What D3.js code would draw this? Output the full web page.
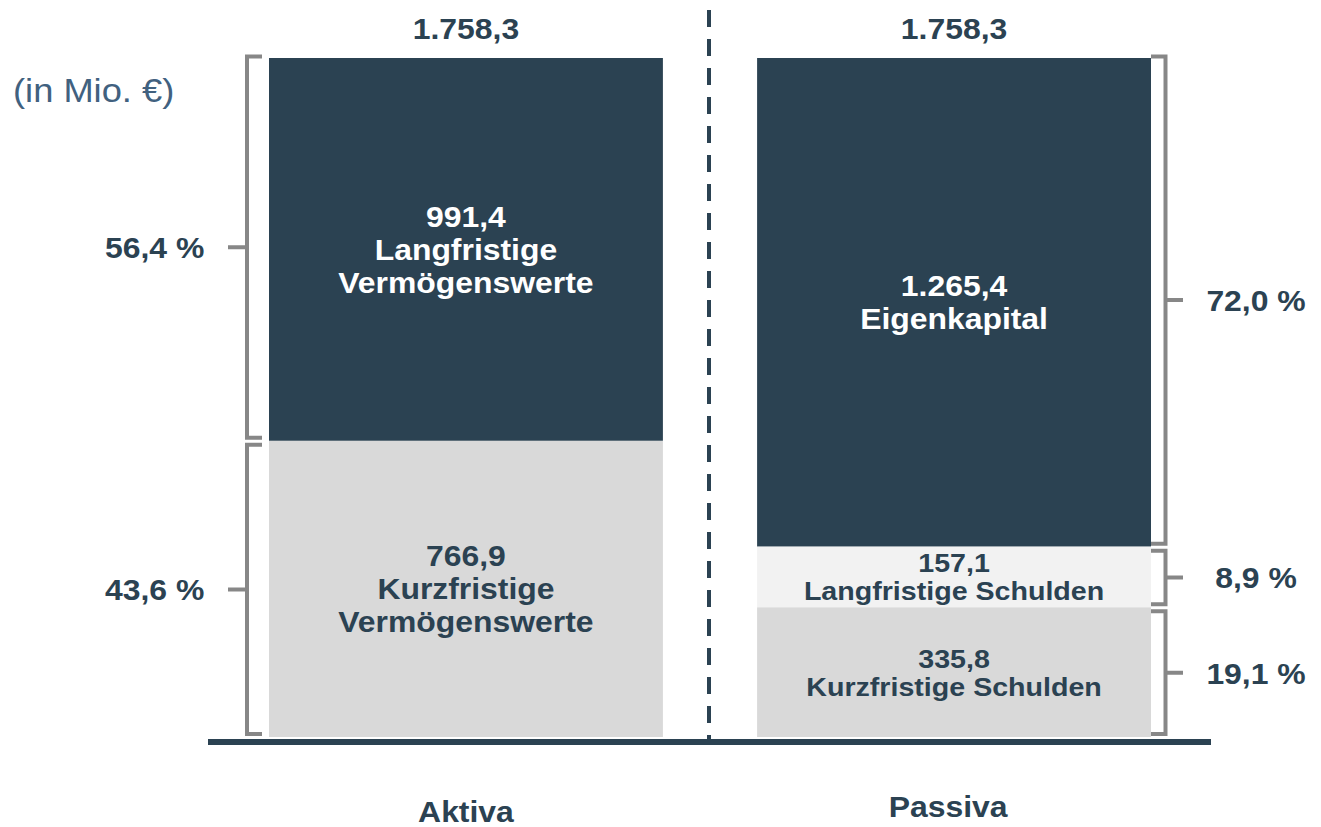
<!DOCTYPE html>
<html><head><meta charset="utf-8">
<script src="https://cdn.jsdelivr.net/npm/d3@7"></script>
<style>body{margin:0;background:#fff}svg{display:block;font-family:"Liberation Sans",Arial,sans-serif}</style>
</head><body>
<svg id="c" width="1321" height="827"></svg>
<script>
const columns = ["Aktiva", "Passiva"];
const aktivaNames = [["Langfristige", "Vermögenswerte"], ["Kurzfristige", "Vermögenswerte"]];
const aktivaValues = [991.4, 766.9];
const passivaNames = [["Eigenkapital"], ["Langfristige Schulden"], ["Kurzfristige Schulden"]];
const passivaValues = [1265.4, 157.1, 335.8];
const totals = [1758.3, 1758.3];
const unitLabel = "(in Mio. €)";

const DARK = "#2b4252", GRAY = "#878787";
const aktivaColors = [DARK, "#d9d9d9"];
const passivaColors = [DARK, "#f2f2f2", "#d9d9d9"];
const aktivaText = ["#ffffff", DARK];
const passivaText = ["#ffffff", DARK, DARK];
const aktivaSmall = [false, false];
const passivaSmall = [false, true, true];
const SX = 1.1; // horizontal stretch of the original typeface

const loc = d3.formatLocale({decimal: ",", thousands: ".", grouping: [3], currency: ["", " €"]});
const fmtV = loc.format(",.1f");
const fmtP = v => loc.format(".1f")(v) + " %";

const svg = d3.select("#c");
const y = d3.scaleLinear().domain([0, totals[0]]).range([737, 58]);
const x = d3.scaleBand().domain(columns).range([269, 1151]).paddingInner(0.193).paddingOuter(0);
const bw = x.bandwidth();

function txt(parent, tx, ty, lines, o) {
  const t = parent.append("text")
    .attr("transform", `translate(${tx},${ty}) scale(${SX},1)`)
    .attr("text-anchor", o.anchor || "middle")
    .attr("font-weight", o.bold === false ? null : "bold")
    .attr("font-size", o.size).attr("fill", o.fill || DARK);
  [].concat(lines).forEach((l, k) => t.append("tspan").attr("x", 0).attr("y", k * (o.lh || 0)).text(l));
  return t;
}

function stack(vals) {
  let acc = totals[0];
  return vals.map(v => { const top = acc; acc -= v; return {top, bottom: acc, v}; });
}

function drawColumn(col, names, vals, colors, txtColors, side, smallFlags) {
  const segs = stack(vals);
  const x0 = x(col);
  const g = svg.append("g");
  g.selectAll("rect").data(segs).join("rect")
    .attr("x", x0).attr("width", bw)
    .attr("y", d => y(d.top)).attr("height", d => y(d.bottom) - y(d.top))
    .attr("fill", (d, i) => colors[i]);
  segs.forEach((d, i) => {
    const small = smallFlags[i];
    const fs = small ? 26 : 29, lh = small ? 28 : 33;
    const lines = [fmtV(d.v)].concat(names[i]);
    const cy = (y(d.top) + y(d.bottom)) / 2;
    const by = cy - (lines.length - 1) / 2 * lh + fs * 0.36;
    txt(g, x0 + bw / 2, by, lines, {size: fs, lh, fill: txtColors[i]});
    // bracket
    const yt = y(d.top) + (i === 0 ? -1.5 : 4), yb = y(d.bottom) - 3;
    const ym = (yt + yb) / 2;
    let path;
    if (side === "left") {
      const bx = 247, ex = 262;
      path = `M${ex},${yt}H${bx}V${yb}H${ex}M${bx},${ym}H${228}`;
      txt(g, 105, ym + 11, fmtP(d.v / totals[0] * 100), {size: 29, anchor: "start"});
    } else {
      const bx = 1165.5, ex = 1151;
      path = `M${ex},${yt}H${bx}V${yb}H${ex}M${bx},${ym}H${1183}`;
      txt(g, 1256, ym + 11, fmtP(d.v / totals[0] * 100), {size: 29});
    }
    g.append("path").attr("d", path).attr("fill", "none").attr("stroke", GRAY).attr("stroke-width", 4);
  });
}

drawColumn("Aktiva", aktivaNames, aktivaValues, aktivaColors, aktivaText, "left", aktivaSmall);
drawColumn("Passiva", passivaNames, passivaValues, passivaColors, passivaText, "right", passivaSmall);

// totals & category labels
columns.forEach((c, i) => {
  txt(svg, x(c) + bw / 2, 39, fmtV(totals[i]), {size: 29});
  txt(svg, x(c) + bw / 2 - (i ? 6 : 0), i ? 817 : 822, c, {size: 29});
});

// dashed divider
svg.append("line").attr("x1", 709).attr("x2", 709).attr("y1", 10).attr("y2", 742)
  .attr("stroke", DARK).attr("stroke-width", 4).attr("stroke-dasharray", "17,12");

// baseline
svg.append("line").attr("x1", 208).attr("x2", 1211).attr("y1", 742).attr("y2", 742)
  .attr("stroke", DARK).attr("stroke-width", 6);

txt(svg, 13, 102, unitLabel, {size: 33, anchor: "start", bold: false, fill: "#41617f"});
</script>
</body></html>
